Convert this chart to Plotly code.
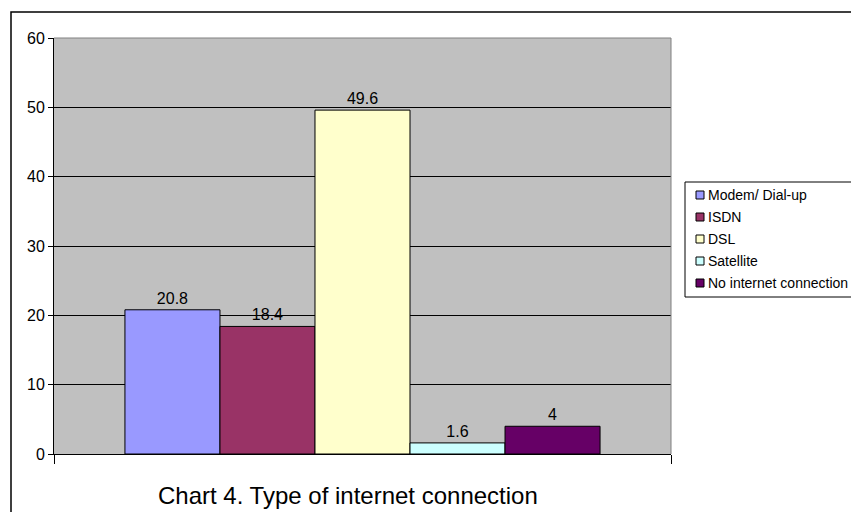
import plotly.graph_objects as go

# data
categories = ["Modem/ Dial-up", "ISDN", "DSL", "Satellite", "No internet connection"]
values = [20.8, 18.4, 49.6, 1.6, 4]
colors = ["#9999FF", "#993366", "#FFFFCC", "#CCFFFF", "#660066"]
yticks = [0, 10, 20, 30, 40, 50, 60]
title_text = "Chart 4. Type of internet connection"

OFF = 8  # page body margin
W, H = 859, 520 - 2 * OFF
L, R, T, B = 54 - OFF, 671 - OFF, 38 - OFF, 454 - OFF  # plot area in px
FONT = "Liberation Sans, Arial, sans-serif"

# page px (screenshot coords) -> paper coords
def px_x(p):
    return (p - OFF - L) / (R - L)

def px_y(p):
    return (B - (p - OFF)) / (B - T)

fig = go.Figure()
for name, v, c in zip(categories, values, colors):
    fig.add_trace(go.Bar(
        x=[""], y=[v], name=name,
        marker=dict(color=c, line=dict(color="black", width=1)),
        text=[f"{v:g}"], textposition="outside",
        textfont=dict(size=16, color="black", family=FONT),
        cliponaxis=False, showlegend=False,
    ))

shapes = []
# outer chart border
shapes.append(dict(type="rect", xref="paper", yref="paper",
                   x0=px_x(11), x1=px_x(880), y0=px_y(540), y1=px_y(12),
                   line=dict(color="black", width=1.5), layer="above"))
# gray plot frame (top and right)
shapes.append(dict(type="line", xref="paper", yref="paper", x0=0, x1=1, y0=1, y1=1,
                   line=dict(color="#808080", width=1)))
shapes.append(dict(type="line", xref="paper", yref="paper", x0=1, x1=1, y0=0, y1=1,
                   line=dict(color="#808080", width=1)))
# legend box
shapes.append(dict(type="rect", xref="paper", yref="paper",
                   x0=px_x(685), x1=px_x(880), y0=px_y(297), y1=px_y(182),
                   line=dict(color="black", width=1), fillcolor="white"))

annotations = []
for i, (name, c) in enumerate(zip(categories, colors)):
    yc = 195 + 22 * i
    shapes.append(dict(type="rect", xref="paper", yref="paper",
                       x0=px_x(696), x1=px_x(704), y0=px_y(yc + 4), y1=px_y(yc - 4),
                       line=dict(color="black", width=1), fillcolor=c))
    annotations.append(dict(text=name, xref="paper", yref="paper",
                            x=px_x(706), y=px_y(yc), xanchor="left", yanchor="middle",
                            showarrow=False, font=dict(size=14, color="black", family=FONT)))

annotations.append(dict(text=title_text, xref="paper", yref="paper",
                        x=px_x(348), y=px_y(495), xanchor="center", yanchor="middle",
                        showarrow=False, font=dict(size=24, color="black", family=FONT)))

fig.update_layout(
    width=W, height=H, autosize=False,
    margin=dict(l=L, r=W - R, t=T, b=H - B, pad=0),
    paper_bgcolor="white", plot_bgcolor="#C0C0C0",
    barmode="group", bargap=0.23, bargroupgap=0,
    font=dict(family=FONT, color="black"),
    shapes=shapes, annotations=annotations,
    xaxis=dict(type="category", range=[-0.5, 0.5], showticklabels=False,
               ticks="outside", tickson="boundaries", ticklen=9, tickcolor="black",
               showline=True, linecolor="black", linewidth=1, showgrid=False),
    yaxis=dict(range=[0, 60], tickvals=yticks, ticks="outside", ticklen=5,
               tickcolor="black", showline=True, linecolor="black", linewidth=1,
               gridcolor="black", gridwidth=1, zeroline=False,
               tickfont=dict(size=16, color="black", family=FONT)),
)

fig.write_html("out.html")
